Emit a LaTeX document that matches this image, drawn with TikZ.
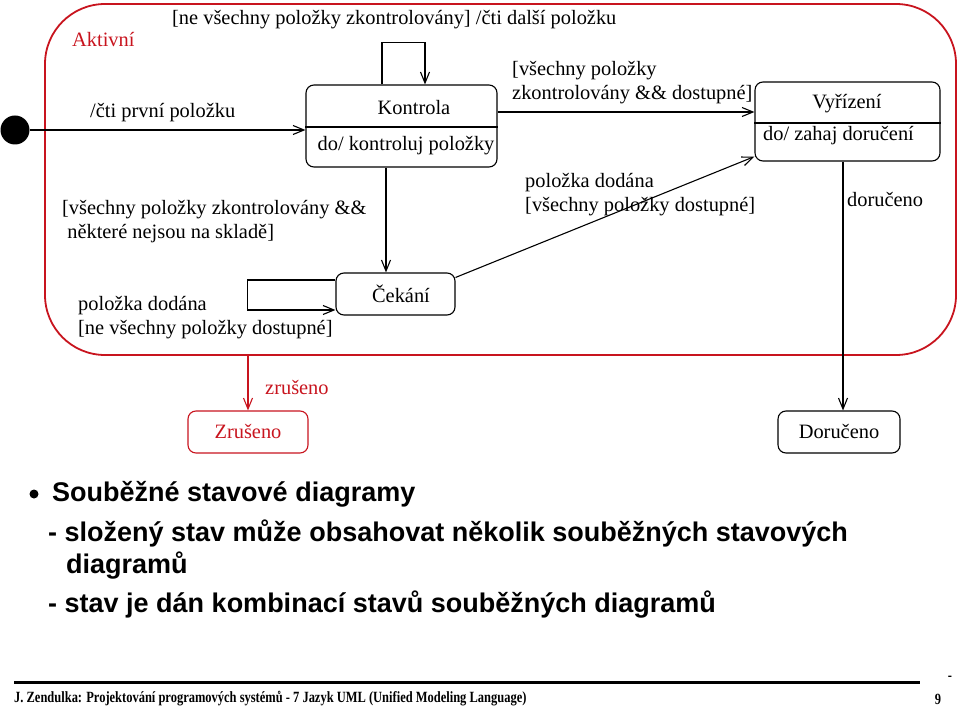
\documentclass[tikz,border=0pt]{standalone}
\usepackage{fontspec}
\setmainfont{Liberation Serif}
\setsansfont{Liberation Sans}
\newfontfamily\patafont[FakeStretch=0.8]{Liberation Serif}
\usepackage{tikz}
\usetikzlibrary{arrows.meta, positioning}
\definecolor{stavred}{HTML}{C8141E}
\newcommand{\diafont}{\fontsize{20.4}{24}\selectfont}
\newcommand{\odstfont}{\sffamily\bfseries\fontsize{27}{33}\selectfont}
\newcommand{\patfont}{\patafont\bfseries\fontsize{15.6}{17}\selectfont}
\tikzset{
  stav/.style={draw, rounded corners=8pt, line width=1.1pt, inner sep=0pt, font=\diafont},
  popis/.style={inner sep=0pt, anchor=west, align=left, font=\diafont},
  prechod/.style={line width=1.1pt, -{Straight Barb[length=11pt, width=9pt]}},
  odstavec/.style={inner sep=0pt, anchor=west, font=\odstfont},
}

\begin{document}
\begin{tikzpicture}[x=1pt, y=-1pt]
  \useasboundingbox (0,0) rectangle (960,708);

  % Aktivni (slozeny stav)
  \node[draw=stavred, line width=1.8pt, rounded corners=60pt, minimum width=911pt, minimum height=351pt] (aktivni) at (500.5,179.5) {};
  \node[popis, text=stavred] (aktivniJmeno) at (72,40) {Aktivní};

  % pocatecni stav
  \node[circle, fill, minimum size=29pt, inner sep=0pt] (start) at (15,130) {};

  % Kontrola
  \node[stav, minimum width=191pt, minimum height=82pt] (kontrola) at (401.5,126) {};
  \draw[line width=1.1pt] ([yshift=-1pt]kontrola.west) -- ([yshift=-1pt]kontrola.east);
  \node[popis, anchor=center] (kontrolaJmeno) at (414,108) {Kontrola};
  \node[popis, anchor=center] (kontrolaDo) at (406,146) {do/ kontroluj položky};

  % Vyrizeni
  \node[stav, minimum width=185pt, minimum height=79pt] (vyrizeni) at (847.5,121.5) {};
  \draw[line width=1.1pt] ([yshift=-1.5pt]vyrizeni.west) -- ([yshift=-1.5pt]vyrizeni.east);
  \node[popis, anchor=center] (vyrizeniJmeno) at (847,104) {Vyřízení};
  \node[popis] (vyrizeniDo) at (763,136) {do/ zahaj doručení};

  % Cekani
  \node[stav, minimum width=119pt, minimum height=42pt] (cekani) at (395.5,294) {\hspace*{11pt}Čekání};

  % koncove stavy
  \node[stav, draw=stavred, text=stavred, minimum width=120pt, minimum height=42pt] (zruseno) at (248,432) {Zrušeno};
  \node[stav, minimum width=122pt, minimum height=42pt] (doruceno) at (839,432) {Doručeno};

  % prechody uvnitr
  \draw[prechod] (start.east) -- (kontrola.west |- start);
  \node[popis] (lblPrvni) at (90,113) {/čti první položku};

  \draw[prechod] ([xshift=-19.5pt]kontrola.north) -- ++(0,-42) -| ([xshift=23.5pt]kontrola.north);
  \node[popis] (lblDalsi) at (172,20) {[ne všechny položky zkontrolovány] /čti další položku};

  \draw[prechod] ([yshift=14pt]kontrola.east) -- ([yshift=9.5pt]vyrizeni.west);
  \node[popis] (lblVsechny) at (512,83) {[všechny položky\\zkontrolovány \&\& dostupné]};

  \draw[prechod] ([xshift=-15.5pt]kontrola.south) -- ([xshift=-15.5pt]kontrola.south |- cekani.north);
  \node[popis] (lblSklad) at (62,222) {[všechny položky zkontrolovány \&\&\\ \ některé nejsou na skladě]};

  \draw[prechod] ([yshift=14pt]cekani.west) -- ++(-88,0) |- ([yshift=-16pt]cekani.west);
  \node[popis] (lblNedostupne) at (78,318) {položka dodána\\{[ne všechny položky dostupné]}};

  \draw[prechod] ([yshift=-5pt]cekani.north east) -- ([yshift=5pt]vyrizeni.south west);
  \node[popis] (lblDostupne) at (525,195) {položka dodána\\{[všechny položky dostupné]}};

  % prechody ven
  \draw[prechod] ([xshift=-4.5pt]vyrizeni.south) -- ([xshift=-4.5pt]vyrizeni.south |- doruceno.north);
  \node[popis] (lblDoruceno) at (847,200) {doručeno};

  \draw[prechod, stavred] (zruseno.north |- aktivni.south) -- (zruseno.north);
  \node[popis, text=stavred] (lblZruseno) at (265,388) {zrušeno};

  % text pod diagramem
  \node[circle, fill, minimum size=9pt, inner sep=0pt] (tecka) at (34,494) {};
  \node[odstavec] (bod) at (52,494) {Souběžné stavové diagramy};
  \node[odstavec] (radek1) at (48,533) {- složený stav může obsahovat několik souběžných stavových};
  \node[odstavec] (radek2) at (66,566) {diagramů};
  \node[odstavec] (radek3) at (48,605) {- stav je dán kombinací stavů souběžných diagramů};

  % paticka
  \draw[line width=3pt] (14,682) -- (920,682);
  \node[popis, font=\patfont] (pata) at (14,699) {J. Zendulka: Projektování programových systémů - 7 Jazyk UML (Unified Modeling Language)};
  \node[popis, font=\patfont, anchor=center] (pomlcka) at (950,678) {-};
  \node[popis, font=\patfont, anchor=center] (strana) at (938,699) {9};
\end{tikzpicture}
\end{document}
